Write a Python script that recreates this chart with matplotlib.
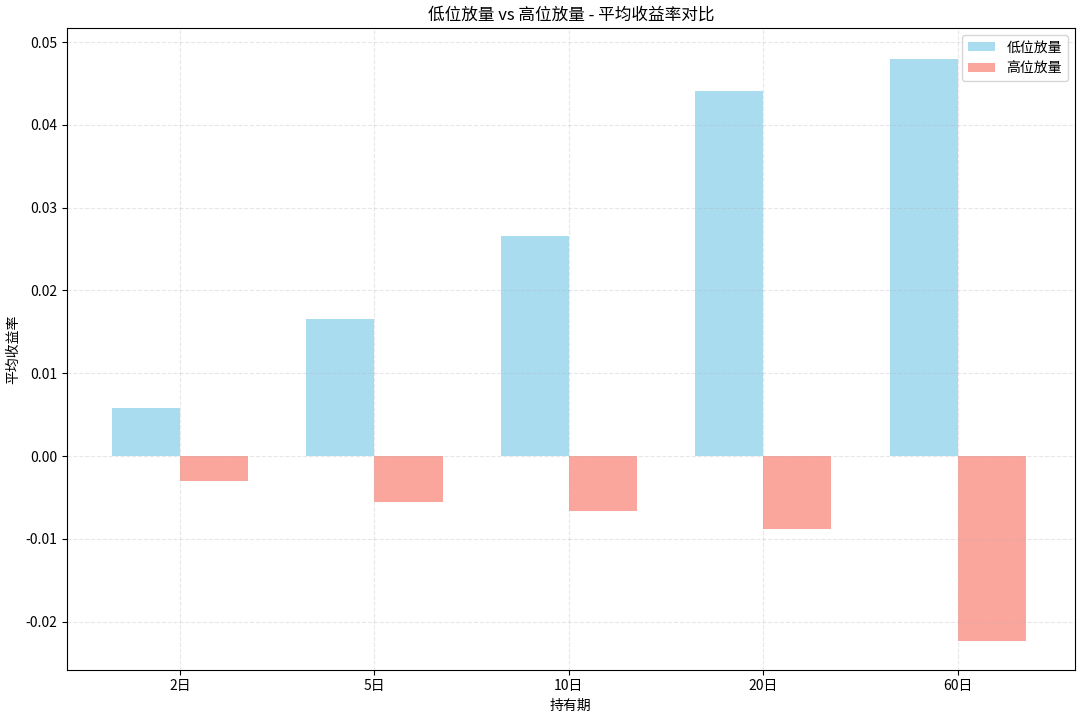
import matplotlib
matplotlib.use("Agg")
import matplotlib.pyplot as plt
import numpy as np

plt.rcParams['font.family'] = ['Noto Sans CJK SC', 'DejaVu Sans']
plt.rcParams['axes.unicode_minus'] = False

periods = ['2日', '5日', '10日', '20日', '60日']
low_vals = [0.0058, 0.0166, 0.0266, 0.0441, 0.0480]
high_vals = [-0.0030, -0.0056, -0.0066, -0.0088, -0.0223]

fig = plt.figure(figsize=(10.8, 7.17), dpi=100)
ax = fig.add_axes([0.062, 0.066, 0.933, 0.895])
x = np.arange(len(periods))
w = 0.35
ax.bar(x - w/2, low_vals, w, color='skyblue', alpha=0.7, label='低位放量')
ax.bar(x + w/2, high_vals, w, color='salmon', alpha=0.7, label='高位放量')
ax.set_xticks(x)
ax.set_xticklabels(periods)
ax.set_ylim(-0.0258, 0.0517)
ax.set_xlim(-0.581, 4.6)
ax.set_xlabel('持有期')
ax.set_ylabel('平均收益率')
ax.set_title('低位放量 vs 高位放量 - 平均收益率对比')
ax.grid(True, linestyle='--', alpha=0.3)
ax.legend(loc='upper right')
fig.savefig('out.png', dpi=100)
